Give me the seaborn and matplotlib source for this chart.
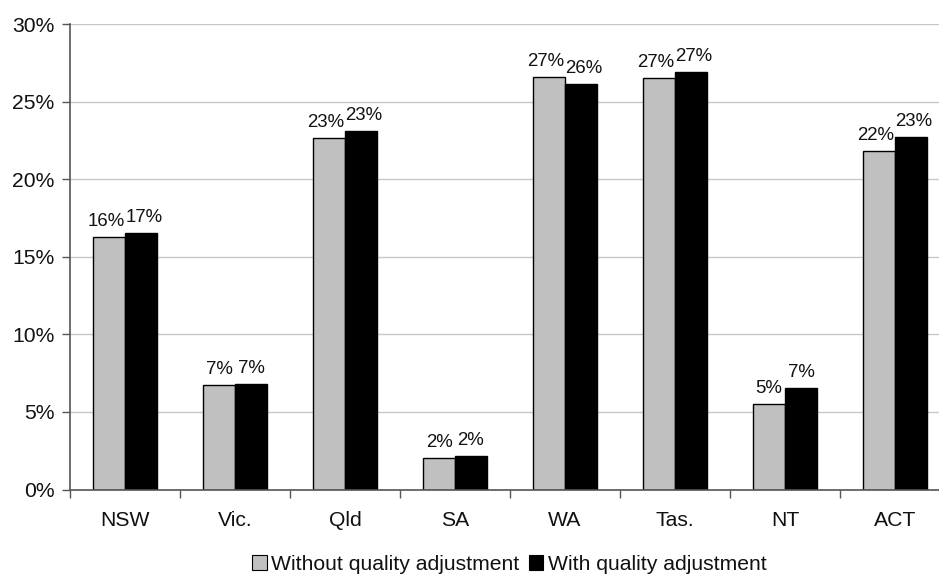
import matplotlib
matplotlib.use("Agg")
import matplotlib.pyplot as plt
from matplotlib.ticker import FixedLocator, FuncFormatter
import seaborn as sns
import pandas as pd

states = ["NSW", "Vic.", "Qld", "SA", "WA", "Tas.", "NT", "ACT"]
without_adj = [16.29, 6.73, 22.65, 2.01, 26.60, 26.52, 5.49, 21.83]
with_adj = [16.55, 6.80, 23.10, 2.18, 26.15, 26.88, 6.52, 22.71]
series = ["Without quality adjustment", "With quality adjustment"]
y_ticks = [0, 5, 10, 15, 20, 25, 30]

df = pd.DataFrame({
    "state": states * 2,
    "value": without_adj + with_adj,
    "series": [series[0]] * len(states) + [series[1]] * len(states),
})

sns.set_style("white")
plt.rcParams["font.family"] = ["Liberation Sans", "DejaVu Sans"]

DPI = 100
fig = plt.figure(figsize=(9.39, 5.74), dpi=DPI)
ax = fig.add_axes([70 / 939, 1 - 489.5 / 574, 880 / 939, (489.5 - 24) / 574])

sns.barplot(data=df, x="state", y="value", hue="series", order=states,
            hue_order=series, palette=["#C0C0C0", "#000000"], width=0.58,
            edgecolor="black", linewidth=1.0, saturation=1, ax=ax,
            legend=False)

LABEL_PAD = 5
label_sets = []
for cont in ax.containers:
    vals = [b.get_height() for b in cont]
    label_sets.append(ax.bar_label(cont, labels=[f"{v:.0f}%" for v in vals],
                                   padding=LABEL_PAD, fontsize=13.4,
                                   color="#111111"))

ax.set_xlim(-0.5, len(states) - 0.5)
ax.set_ylim(0, 30)
ax.yaxis.set_major_locator(FixedLocator(y_ticks))
ax.yaxis.set_major_formatter(FuncFormatter(lambda v, p: f"{v:.0f}%"))
ax.grid(axis="y", color="#C8C8C8", linewidth=1.0)
ax.set_axisbelow(True)

ax.xaxis.set_minor_locator(FixedLocator([i + 0.5 for i in range(-1, len(states))]))
ax.tick_params(axis="x", which="major", length=0, pad=15.5, labelsize=15.2,
               labelcolor="#111111")
ax.tick_params(axis="x", which="minor", length=6, width=1, color="#555555",
               direction="out", bottom=True)
ax.tick_params(axis="y", which="major", length=6, width=1, color="#555555",
               direction="out", left=True, labelsize=15.2, pad=5,
               labelcolor="#111111")

for side in ["top", "right"]:
    ax.spines[side].set_visible(False)
for side in ["left", "bottom"]:
    ax.spines[side].set_color("#555555")
    ax.spines[side].set_linewidth(1.2)

ax.set_xlabel("")
ax.set_ylabel("")

# push apart value labels of neighbouring bars when they collide
fig.canvas.draw()
renderer = fig.canvas.get_renderer()
for left_lab, right_lab in zip(label_sets[0], label_sets[1]):
    bl = left_lab.get_window_extent(renderer)
    br = right_lab.get_window_extent(renderer)
    overlap = bl.x1 + 1 - br.x0
    if overlap > 0:
        shift_pt = overlap / 2 * 72 / DPI
        left_lab.xyann = (-shift_pt, LABEL_PAD)
        right_lab.xyann = (shift_pt, LABEL_PAD)

handles = [plt.Rectangle((0, 0), 1, 1, facecolor=c, edgecolor="black",
                         linewidth=0.8) for c in ["#C0C0C0", "#000000"]]
fig.legend(handles, series, loc="center", ncol=2, frameon=False,
           bbox_to_anchor=(509 / 939, 1 - 564 / 574), fontsize=15.2,
           labelcolor="#111111",
           handlelength=0.7, handleheight=0.7, handletextpad=0.2,
           columnspacing=0.45, borderpad=0, borderaxespad=0)

fig.savefig("out.png", dpi=DPI)
